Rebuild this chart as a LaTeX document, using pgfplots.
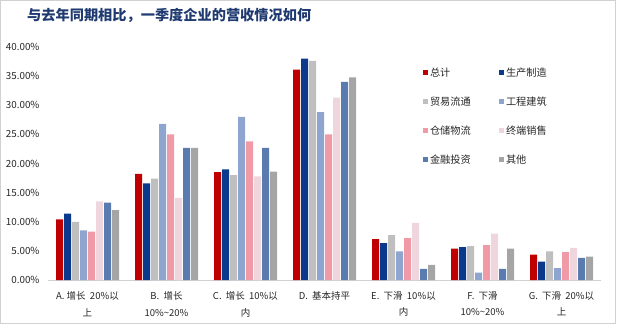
\documentclass[border=0pt]{standalone}
\usepackage{pgfplots}
\pgfplotsset{compat=1.18}
\usepackage{fontspec}
\setmainfont{Noto Sans CJK SC}
\definecolor{cA}{HTML}{C00000}
\definecolor{cB}{HTML}{0B3A8C}
\definecolor{cC}{HTML}{BFBFBF}
\definecolor{cD}{HTML}{8EA5CF}
\definecolor{cE}{HTML}{EF9AA6}
\definecolor{cF}{HTML}{EED6DC}
\definecolor{cG}{HTML}{5A7BB0}
\definecolor{cH}{HTML}{A5A5A5}
\definecolor{titleblue}{HTML}{1F3A70}
\definecolor{txt}{HTML}{262626}
\begin{document}
\begin{tikzpicture}[x=1pt,y=1pt]
\useasboundingbox (0,0) rectangle (618,325);
\draw[color=black!18, line width=0.8pt] (0.5,1.5) rectangle (615,324.5);
\node[anchor=west, text=titleblue, font=\fontsize{14.2}{15}\selectfont\bfseries, inner sep=0pt] at (27,310) {与去年同期相比，一季度企业的营收情况如何};
\begin{axis}[
  at={(48pt,45pt)}, anchor=south west,
  scale only axis, width=553pt, height=233pt,
  ybar=1pt, bar width=7pt,
  xmin=-0.5, xmax=6.5, ymin=0, ymax=40,
  xtick={0,1,2,3,4,5,6},
  xticklabels={{A.\ 增长\ \ 20\%以\\上},{B.\ \ 增长\\10\%\textasciitilde20\%},{C.\ \ 增长\ \ 10\%以\\内},{D.\ \ 基本持平\\\strut},{E.\ \ 下滑\ \ 10\%以\\内},{F.\ \ 下滑\\10\%\textasciitilde20\%},{G.\ \ 下滑\ \ 20\%以\\上}},
  x tick label style={align=center, font=\fontsize{9.5}{16.5}\selectfont, text=txt, yshift=-8pt},
  ytick={0,5,10,15,20,25,30,35,40},
  yticklabel={\pgfmathprintnumber[fixed,fixed zerofill,precision=2]{\tick}\%},
  y tick label style={font=\fontsize{9.8}{10}\selectfont, text=txt, xshift=-5pt},
  /pgf/number format/assume math mode=true,
  major tick length=0pt,
  axis lines*=left,
  x axis line style={draw=black!18, line width=0.8pt},
  y axis line style={draw=none},
  enlarge x limits=false,
  legend columns=2,
  legend cell align=left,
  legend style={draw=none, fill=none, at={(0.672,0.93)}, anchor=north west,
     font=\fontsize{10.2}{12}\selectfont, text=txt,
     /tikz/every even column/.append style={column sep=26pt},
     row sep=15pt},
  legend image code/.code={\fill[#1,draw=none] (0pt,-2.6pt) rectangle (5.2pt,2.6pt);},
]
\addplot[fill=cA, draw=none] coordinates {(0,10.4) (1,18.2) (2,18.5) (3,36.1) (4,7.0) (5,5.4) (6,4.35)};
\addplot[fill=cB, draw=none] coordinates {(0,11.4) (1,16.6) (2,19.0) (3,38.0) (4,6.35) (5,5.65) (6,3.15)};
\addplot[fill=cC, draw=none] coordinates {(0,10.0) (1,17.4) (2,18.0) (3,37.6) (4,7.7) (5,5.8) (6,4.9)};
\addplot[fill=cD, draw=none] coordinates {(0,8.5) (1,26.8) (2,28.0) (3,28.8) (4,4.9) (5,1.25) (6,2.05)};
\addplot[fill=cE, draw=none] coordinates {(0,8.3) (1,25.0) (2,23.8) (3,25.0) (4,7.2) (5,6.0) (6,4.8)};
\addplot[fill=cF, draw=none] coordinates {(0,13.5) (1,14.1) (2,17.8) (3,31.3) (4,9.8) (5,7.95) (6,5.5)};
\addplot[fill=cG, draw=none] coordinates {(0,13.3) (1,22.7) (2,22.7) (3,34.0) (4,1.9) (5,1.9) (6,3.8)};
\addplot[fill=cH, draw=none] coordinates {(0,12.0) (1,22.7) (2,18.6) (3,34.8) (4,2.6) (5,5.4) (6,4.0)};
\legend{总计,生产制造,贸易流通,工程建筑,仓储物流,终端销售,金融投资,其他}
\end{axis}
\end{tikzpicture}
\end{document}
